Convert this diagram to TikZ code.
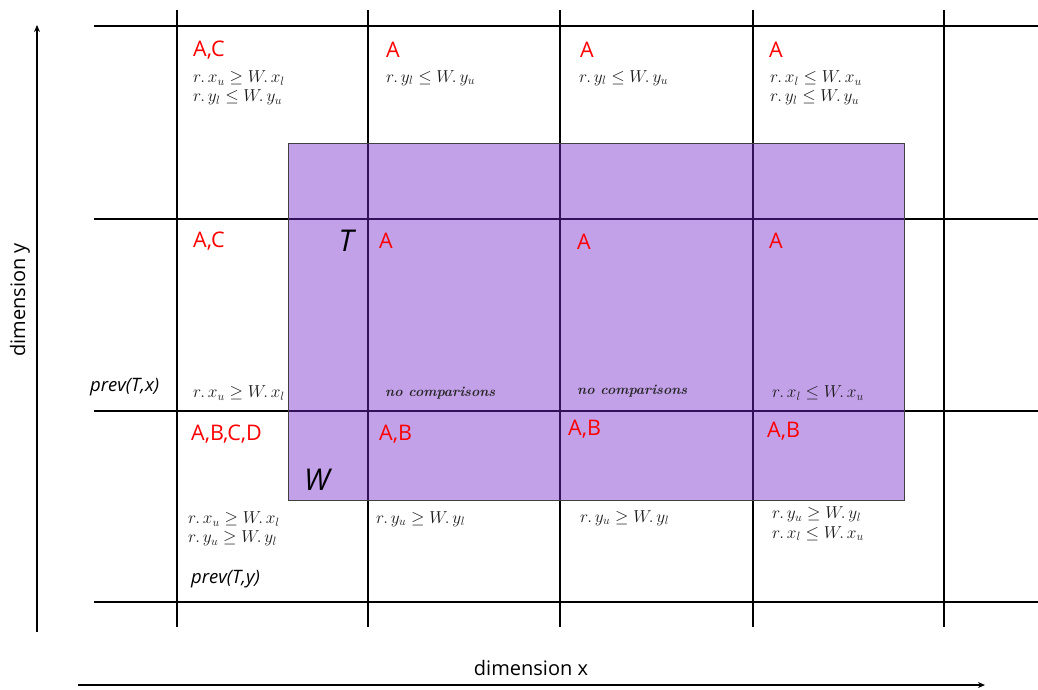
\documentclass[tikz,border=0pt]{standalone}
\usepackage{fontspec}
\usepackage{amsmath}
\newfontfamily\segoe{Open Sans}
\usetikzlibrary{arrows.meta}
\definecolor{winfill}{RGB}{118,40,205}
\tikzset{
  grid/.style={line width=2.6pt, black},
  lbl/.style={text=red, font=\segoe\fontsize{21.5}{24}\selectfont, anchor=west, inner sep=0pt},
  cond/.style={font=\fontsize{17}{19.5}\selectfont, text=black!90, anchor=west, inner sep=0pt, align=left},
  prevlbl/.style={font=\segoe\itshape\fontsize{18.5}{22}\selectfont, anchor=west, inner sep=0pt},
  big/.style={font=\segoe\itshape\fontsize{30}{36}\selectfont, inner sep=0pt},
  axislbl/.style={font=\segoe\fontsize{20}{22}\selectfont, inner sep=0pt},
  axis/.style={line width=1.3pt, -{Stealth[length=7pt,width=6pt]}},
  nocmp/.style={font=\itshape\bfseries\fontsize{14}{16}\selectfont, text=black!85, anchor=west, inner sep=0pt}
}
\newcommand{\dt}{.\,}
\begin{document}
\begin{tikzpicture}[x=1pt,y=-1pt]
\useasboundingbox (0,0) rectangle (1038,689);
% grid
\foreach \xx in {177,368,560,753,944} \draw[grid] (\xx,10) -- (\xx,627);
\foreach \yy in {26,219,411,602} \draw[grid] (94,\yy) -- (1038,\yy);
% window rectangle
\fill[winfill, fill opacity=0.44] (288,143) rectangle (904,500);
\draw[black!75, line width=0.8pt] (288,143) rectangle (904,500);
% axes
\coordinate (ya) at (37,632); \coordinate (yb) at (37,25);
\coordinate (xa) at (78,685); \coordinate (xb) at (985,685);
\draw[axis] (ya) -- (yb);
\draw[axis] (xa) -- (xb);
\node[axislbl] (dx) at (531,668) {dimension x};
\node[axislbl, rotate=90] (dy) at (20,300) {dimension y};
% top row
\node[lbl] (l11) at (193,50) {A,C};
\node[cond] (c11) at (193,88) {$r\dt x_u \geq W\dt x_l$\\ $r\dt y_l \leq W\dt y_u$};
\node[lbl] (l12) at (386,50) {A};
\node[cond] (c12) at (386,78) {$r\dt y_l \leq W\dt y_u$};
\node[lbl] (l13) at (580,50) {A};
\node[cond] (c13) at (579,78) {$r\dt y_l \leq W\dt y_u$};
\node[lbl] (l14) at (769,50) {A};
\node[cond] (c14) at (770,88) {$r\dt x_l \leq W\dt x_u$\\ $r\dt y_l \leq W\dt y_u$};
% second row
\node[lbl] (l21) at (193,241) {A,C};
\node[big] (T) at (346,241) {T};
\node[lbl] (l22) at (379,241) {A};
\node[lbl] (l23) at (577,242) {A};
\node[lbl] (l24) at (769,241) {A};
\node[prevlbl] (px) at (90,387) {prev(T,x)};
\node[cond] (c21) at (193,393) {$r\dt x_u \geq W\dt x_l$};
\node[nocmp] (n22) at (385,393) {no comparisons};
\node[nocmp] (n23) at (577,391) {no comparisons};
\node[cond] (c24) at (772,393) {$r\dt x_l \leq W\dt x_u$};
% third row
\node[lbl] (l31) at (191,434) {A,B,C,D};
\node[lbl] (l32) at (379,434) {A,B};
\node[lbl] (l33) at (568,429) {A,B};
\node[lbl] (l34) at (767,431) {A,B};
\node[big] (W) at (317,480) {W};
\node[cond] (c31) at (188,529) {$r\dt x_u \geq W\dt x_l$\\ $r\dt y_u \geq W\dt y_l$};
\node[cond] (c32) at (376,519) {$r\dt y_u \geq W\dt y_l$};
\node[cond] (c33) at (580,518) {$r\dt y_u \geq W\dt y_l$};
\node[cond] (c34) at (772,524) {$r\dt y_u \geq W\dt y_l$\\ $r\dt x_l \leq W\dt x_u$};
\node[prevlbl] (py) at (191,579) {prev(T,y)};
\end{tikzpicture}
\end{document}
